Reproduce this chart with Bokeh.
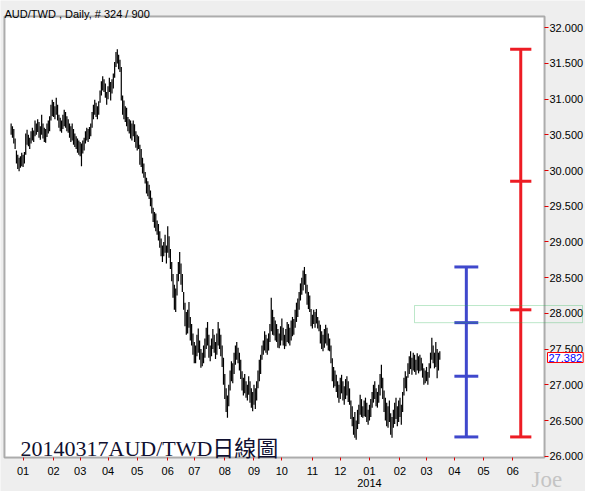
import pandas as pd
from bokeh.plotting import figure
from bokeh.models import (LinearAxis, FixedTicker, Range1d, Label, BoxAnnotation,
                          PrintfTickFormatter, ColumnDataSource)
from bokeh.embed import file_html
from bokeh.resources import INLINE

# ---------------- data ----------------
first_date = "2012-12-19"
title_text = "AUD/TWD , Daily, # 324 / 900"
caption_text = "20140317AUD/TWD日線圖"
watermark = "Joe"
last_close = 27.382

highs = [
    30.66, 30.62, 30.58, 30.45, 30.28, 30.22, 30.18, 30.20, 30.25, 30.22,
    30.26, 30.52, 30.57, 30.50, 30.46, 30.55, 30.60, 30.56, 30.70, 30.66,
    30.72, 30.68, 30.62, 30.78, 30.66, 30.60, 30.58, 30.66, 30.70, 30.76,
    30.92, 30.99, 30.96, 30.90, 31.02, 30.92, 30.78, 30.74, 30.70, 30.78,
    30.85, 30.82, 30.76, 30.72, 30.66, 30.62, 30.66, 30.58, 30.52, 30.48,
    30.45, 30.42, 30.40, 30.38, 30.42, 30.46, 30.55, 30.60, 30.58, 30.61,
    30.66, 30.82, 30.92, 30.99, 30.95, 30.90, 30.97, 31.12, 31.25, 31.32,
    31.28, 31.22, 31.10, 31.18, 31.30, 31.24, 31.28, 31.36, 31.52, 31.66,
    31.70, 31.62, 31.55, 31.45, 31.05, 30.98, 30.90, 30.88, 30.75, 30.72,
    30.70, 30.66, 30.70, 30.65, 30.55, 30.50, 30.48, 30.36, 30.30, 30.18,
    30.10, 29.98, 29.90, 29.85, 29.80, 29.72, 29.62, 29.48, 29.42, 29.40,
    29.30, 29.25, 29.15, 29.05, 28.95, 29.00, 29.10, 28.95, 29.22, 29.08,
    28.90, 28.72, 28.55, 28.40, 28.35, 28.55, 28.72, 28.86, 28.70, 28.55,
    28.30, 28.15, 28.02, 28.05, 28.16, 27.95, 27.85, 27.72, 27.60, 27.55,
    27.70, 27.79, 27.62, 27.50, 27.45, 27.55, 27.65, 27.80, 27.88, 27.70,
    27.55, 27.65, 27.78, 27.70, 27.60, 27.72, 27.88, 27.79, 27.70, 27.55,
    27.38, 27.15, 26.95, 26.85, 27.00, 27.20, 27.33, 27.30, 27.45, 27.55,
    27.60, 27.52, 27.45, 27.35, 27.19, 27.10, 27.15, 27.05, 27.00, 27.12,
    27.05, 26.95, 26.90, 27.00, 26.95, 27.05, 27.20, 27.35, 27.42, 27.55,
    27.62, 27.75, 27.70, 27.65, 27.72, 27.85, 28.22, 28.05, 27.95, 27.90,
    27.85, 27.78, 27.72, 27.82, 27.93, 27.80, 27.70, 27.78, 27.88, 27.85,
    27.80, 27.90, 27.95, 27.92, 28.05, 28.15, 28.21, 28.30, 28.42, 28.50,
    28.60, 28.65, 28.55, 28.40, 28.30, 28.25, 28.06, 27.98, 28.05, 28.02,
    28.06, 27.95, 27.90, 27.84, 27.75, 27.70, 27.78, 27.84, 27.80, 27.72,
    27.65, 27.55, 27.37, 27.25, 27.20, 27.14, 27.05, 27.00, 27.10, 27.14,
    27.05, 26.98, 27.08, 27.12, 27.05, 26.95, 26.78, 26.70, 26.55, 26.62,
    26.50, 26.65, 26.72, 26.86, 26.80, 26.70, 26.78, 26.82, 26.75, 26.65,
    26.72, 26.80, 26.90, 27.00, 27.05, 26.95, 26.90, 27.00, 27.15, 27.28,
    27.10, 26.92, 26.82, 26.75, 26.70, 26.78, 26.60, 26.55, 26.65, 26.75,
    26.82, 26.70, 26.78, 26.82, 26.72, 26.90, 27.10, 27.19, 27.12, 27.30,
    27.40, 27.47, 27.38, 27.45, 27.42, 27.35, 27.44, 27.40, 27.42, 27.38,
    27.30, 27.23, 27.20, 27.25, 27.18, 27.30, 27.45, 27.66, 27.55, 27.45,
    27.60, 27.50, 27.45, 27.47,
]

lows = [
    30.50, 30.46, 30.38, 30.30, 30.10, 30.02, 29.99, 30.04, 30.06, 30.05,
    30.10, 30.22, 30.36, 30.34, 30.30, 30.38, 30.42, 30.40, 30.48, 30.50,
    30.54, 30.46, 30.43, 30.50, 30.45, 30.40, 30.39, 30.47, 30.52, 30.55,
    30.70, 30.76, 30.75, 30.72, 30.78, 30.70, 30.60, 30.55, 30.53, 30.58,
    30.62, 30.60, 30.55, 30.53, 30.46, 30.40, 30.42, 30.36, 30.33, 30.30,
    30.25, 30.22, 30.20, 30.06, 30.24, 30.28, 30.38, 30.42, 30.40, 30.44,
    30.48, 30.60, 30.72, 30.78, 30.75, 30.72, 30.78, 30.95, 31.05, 31.12,
    31.10, 31.02, 30.92, 31.00, 31.10, 30.98, 31.08, 31.15, 31.30, 31.45,
    31.50, 31.42, 31.38, 30.98, 30.78, 30.72, 30.68, 30.62, 30.55, 30.52,
    30.45, 30.42, 30.48, 30.40, 30.32, 30.28, 30.30, 30.08, 30.05, 29.96,
    29.90, 29.82, 29.68, 29.64, 29.60, 29.50, 29.40, 29.28, 29.20, 29.15,
    29.10, 29.02, 28.92, 28.80, 28.72, 28.80, 28.85, 28.70, 28.85, 28.78,
    28.62, 28.45, 28.22, 28.05, 28.02, 28.25, 28.45, 28.55, 28.40, 28.30,
    28.05, 27.82, 27.70, 27.72, 27.80, 27.62, 27.55, 27.42, 27.30, 27.30,
    27.40, 27.45, 27.35, 27.24, 27.26, 27.30, 27.38, 27.50, 27.55, 27.38,
    27.33, 27.40, 27.50, 27.45, 27.36, 27.42, 27.55, 27.50, 27.40, 27.25,
    27.00, 26.80, 26.62, 26.54, 26.70, 26.92, 27.05, 27.02, 27.15, 27.28,
    27.35, 27.30, 27.20, 27.08, 26.92, 26.85, 26.88, 26.82, 26.78, 26.86,
    26.75, 26.68, 26.63, 26.72, 26.66, 26.78, 26.95, 27.05, 27.15, 27.35,
    27.42, 27.48, 27.45, 27.42, 27.48, 27.60, 27.75, 27.70, 27.69, 27.62,
    27.60, 27.52, 27.51, 27.55, 27.62, 27.55, 27.50, 27.54, 27.60, 27.58,
    27.55, 27.62, 27.68, 27.70, 27.80, 27.88, 27.95, 28.05, 28.18, 28.26,
    28.32, 28.40, 28.28, 28.12, 28.06, 28.02, 27.82, 27.79, 27.85, 27.80,
    27.86, 27.79, 27.75, 27.58, 27.50, 27.47, 27.52, 27.58, 27.55, 27.48,
    27.47, 27.30, 27.05, 26.96, 26.98, 26.90, 26.82, 26.75, 26.80, 26.88,
    26.78, 26.72, 26.80, 26.85, 26.76, 26.72, 26.52, 26.42, 26.30, 26.26,
    26.23, 26.38, 26.45, 26.58, 26.55, 26.54, 26.56, 26.55, 26.48, 26.44,
    26.50, 26.55, 26.68, 26.75, 26.80, 26.70, 26.68, 26.75, 26.85, 26.95,
    26.80, 26.62, 26.50, 26.42, 26.40, 26.48, 26.30, 26.26, 26.40, 26.45,
    26.52, 26.42, 26.48, 26.55, 26.44, 26.62, 26.85, 26.95, 26.91, 27.10,
    27.15, 27.22, 27.14, 27.20, 27.18, 27.14, 27.20, 27.16, 27.19, 27.20,
    27.10, 27.00, 27.02, 27.05, 27.00, 27.10, 27.23, 27.35, 27.30, 27.23,
    27.25, 27.09, 27.20, 27.35,
]

blue_levels = [26.27, 27.12, 27.87, 28.65]
red_levels = [26.27, 28.05, 29.85, 31.70]
zone_bottom, zone_top = 27.87, 28.11
y_ticks = [26.0, 26.5, 27.0, 27.5, 28.0, 28.5, 29.0, 29.5, 30.0, 30.5, 31.0, 31.5, 32.0]
last_month = "2014-06"

# ---------------- layout constants (pixels) ----------------
W, H = 585, 491
PL, PR, PT, PB = 4, 544, 16, 457          # plot area edges on the canvas
X0, X1 = -5.0, 401.9                      # data extent of the plot area
Y0, Y1 = 25.982, 32.157

sx = (PR - PL) / (X1 - X0)
sy = (PB - PT) / (Y1 - Y0)
def px_x(px):
    return X0 + (px - PL) / sx
def px_y(py):
    return Y1 - (py - PT) / sy

# ---------------- build ----------------
n = min(len(highs), len(lows))
all_days = pd.bdate_range(first_date, periods=n + 120)
idx = list(range(n))

month_pos, month_lab, year_pos = [], {}, {}
for i in range(1, len(all_days)):
    d, prev = all_days[i], all_days[i - 1]
    if d.month != prev.month and d.strftime("%Y-%m") <= last_month:
        month_pos.append(i)
        month_lab[i] = d.strftime("%m")
        if d.month == 1 and d.year == 2014:
            year_pos[i] = str(d.year)

src = ColumnDataSource(dict(x=idx, high=highs[:n], low=lows[:n]))

p = figure(width=W, height=H, output_backend="svg", toolbar_location=None,
           x_range=Range1d(px_x(0), px_x(W)), y_range=Range1d(px_y(H), px_y(0)),
           x_axis_location=None, y_axis_location=None,
           min_border=0, min_border_left=0, min_border_right=0,
           min_border_top=0, min_border_bottom=0)
p.border_fill_color = "#EEEEEE"
p.background_fill_color = "#EEEEEE"
p.outline_line_color = None
p.xgrid.visible = False
p.ygrid.visible = False

# white plot area with black frame
p.add_layout(BoxAnnotation(left=X0, right=X1, bottom=Y0, top=Y1, fill_color="white",
                           fill_alpha=1, line_color="black", line_width=2, level="underlay"))

yax = LinearAxis(fixed_location=X1, ticker=FixedTicker(ticks=y_ticks),
                 formatter=PrintfTickFormatter(format="%.3f"),
                 major_tick_line_color="#E00000", major_tick_in=0, major_tick_out=4,
                 minor_tick_line_color=None, axis_line_color=None,
                 major_label_text_font="Liberation Sans", major_label_text_font_size="11px",
                 major_label_text_color="black", major_label_standoff=1)
p.add_layout(yax, "right")

xax = LinearAxis(fixed_location=Y0, ticker=FixedTicker(ticks=month_pos),
                 major_label_overrides=month_lab,
                 major_tick_line_color="#E00000", major_tick_in=0, major_tick_out=3,
                 minor_tick_line_color=None, axis_line_color=None,
                 major_label_text_font="Liberation Sans", major_label_text_font_size="11px",
                 major_label_text_color="black", major_label_standoff=6)
p.add_layout(xax, "below")

xax2 = LinearAxis(fixed_location=Y0, ticker=FixedTicker(ticks=list(year_pos.keys())),
                  major_label_overrides=year_pos,
                  major_tick_line_color=None, major_tick_in=0, major_tick_out=0,
                  minor_tick_line_color=None, axis_line_color=None,
                  major_label_text_font="Liberation Sans", major_label_text_font_size="11px",
                  major_label_text_color="black", major_label_standoff=21)
p.add_layout(xax2, "below")

# daily bars (high-low)
p.segment(x0="x", y0="low", x1="x", y1="high", source=src, line_color="black", line_width=1.2)

# range bars
BLUE_X, RED_X = 343, 384
p.segment(x0=[BLUE_X], y0=[blue_levels[0]], x1=[BLUE_X], y1=[blue_levels[-1]],
          line_color="#3F48CC", line_width=3)
p.segment(x0=[BLUE_X - 9] * len(blue_levels), x1=[BLUE_X + 9] * len(blue_levels),
          y0=blue_levels, y1=blue_levels, line_color="#3F48CC", line_width=3)
p.segment(x0=[RED_X], y0=[red_levels[0]], x1=[RED_X], y1=[red_levels[-1]],
          line_color="#ED1C24", line_width=3)
p.segment(x0=[RED_X - 8] * len(red_levels), x1=[RED_X + 8] * len(red_levels),
          y0=red_levels, y1=red_levels, line_color="#ED1C24", line_width=3)

p.add_layout(BoxAnnotation(left=px_x(414), right=px_x(582), bottom=zone_bottom, top=zone_top,
                           fill_color=None, fill_alpha=0, line_color="#22B14C", line_width=1))

# texts (screen units are measured from the canvas bottom-left)
p.add_layout(Label(x=4, y=H - 13, x_units="screen", y_units="screen", text=title_text,
                   text_font="Liberation Sans", text_font_size="11px",
                   text_color="black", text_baseline="alphabetic"))
p.add_layout(Label(x=20, y=H - 448, x_units="screen", y_units="screen", text=caption_text,
                   text_font="'Liberation Serif', 'Noto Sans CJK TC'", text_font_size="22px",
                   text_color="#101030", text_baseline="alphabetic"))
p.add_layout(Label(x=531, y=H - 479, x_units="screen", y_units="screen", text=watermark,
                   text_font="Liberation Serif", text_font_size="23px",
                   text_color="#C4C4C4", text_baseline="alphabetic"))
p.add_layout(Label(x=PR + 3, y=last_close, x_units="screen", y_units="data",
                   text=f"{last_close:.3f}", text_font="Liberation Sans",
                   text_font_size="11px", text_color="#0000FF", text_baseline="middle",
                   padding=1, border_line_color="#FF0000", border_line_width=1,
                   background_fill_color="white"))

open("out.html", "w").write(file_html(p, INLINE))
